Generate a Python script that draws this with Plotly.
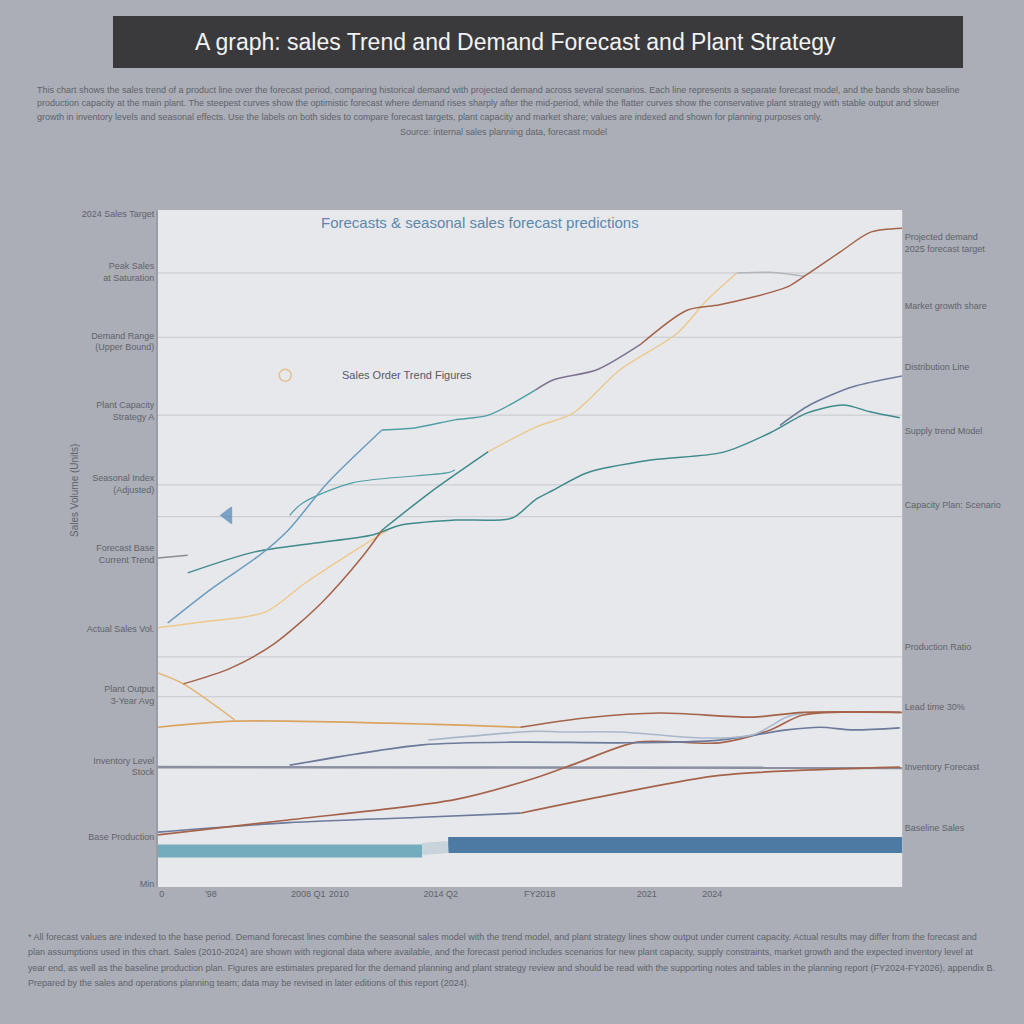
import plotly.graph_objects as go

# ---------------- DATA ----------------
TITLE = "A graph: sales Trend and Demand Forecast and Plant Strategy"
PLOT_TITLE = "Forecasts & seasonal sales forecast predictions"
NOTE = "Sales Order Trend Figures"
HEADER_LINES = [
    "This chart shows the sales trend of a product line over the forecast period, comparing historical demand with projected demand across several scenarios. Each line represents a separate forecast model, and the bands show baseline",
    "production capacity at the main plant. The steepest curves show the optimistic forecast where demand rises sharply after the mid-period, while the flatter curves show the conservative plant strategy with stable output and slower",
    "growth in inventory levels and seasonal effects. Use the labels on both sides to compare forecast targets, plant capacity and market share; values are indexed and shown for planning purposes only.",
]
HEADER_SOURCE = "Source: internal sales planning data, forecast model"
FOOTER_LINES = [
    "* All forecast values are indexed to the base period. Demand forecast lines combine the seasonal sales model with the trend model, and plant strategy lines show output under current capacity. Actual results may differ from the forecast and",
    "plan assumptions used in this chart. Sales (2010-2024) are shown with regional data where available, and the forecast period includes scenarios for new plant capacity, supply constraints, market growth and the expected inventory level at",
    "year end, as well as the baseline production plan. Figures are estimates prepared for the demand planning and plant strategy review and should be read with the supporting notes and tables in the planning report (FY2024-FY2026), appendix B.",
    "Prepared by the sales and operations planning team; data may be revised in later editions of this report (2024).",
]

X_TICKS = [0.5, 7.1, 20.2, 24.3, 38.0, 51.3, 65.7, 74.5]
X_LABELS = ["0", "'98", "2008 Q1", "2010", "2014 Q2", "FY2018", "2021", "2024"]

LEFT_TICKS = [99.4, 90.9, 80.6, 70.3, 59.5, 49.2, 38.1, 28.4, 17.8, 7.4, 0.4]
LEFT_LABELS = ["2024 Sales Target", "Peak Sales<br>at Saturation", "Demand Range<br>(Upper Bound)",
               "Plant Capacity<br>Strategy A", "Seasonal Index<br>(Adjusted)",
               "Forecast Base<br>Current Trend", "Actual Sales Vol.", "Plant Output<br>3-Year Avg",
               "Inventory Level<br>Stock", "Base Production", "Min"]
RIGHT_TICKS = [95.1, 85.9, 76.8, 67.4, 56.4, 35.5, 26.6, 17.8, 8.8]
RIGHT_LABELS = ["Projected demand<br>2025 forecast target", "Market growth share", "Distribution Line",
                "Supply trend Model", "Capacity Plan: Scenario", "Production Ratio", "Lead time 30%",
                "Inventory Forecast", "Baseline Sales"]
GRID_VALUES = [90.7, 81.2, 69.7, 59.4, 54.7, 34.0, 28.1]

# series values (x: period index 0-100, y: sales index 0-100)
seasonal_x = [1.3, 7.0, 14.0, 17.5, 22.8, 30.1, 34.5, 39.9, 44.4, 50.7, 53.1, 59.0, 64.8, 71.1, 75.5, 84.5, 86.7, 91.7, 95.7, 100]
seasonal_y = [39.0, 43.9, 49.3, 52.7, 59.7, 67.5, 67.8, 69.0, 69.7, 73.4, 74.9, 76.4, 80.1, 85.2, 86.0, 88.6, 90.1, 93.8, 96.7, 97.3]

demand_x = [3.4, 9.7, 15.7, 22.0, 27.4, 30.1, 36.6, 44.4, 50.7, 55.8, 62.1, 69.8, 73.8, 77.8, 82.3, 87.0]
demand_y = [30.0, 32.3, 36.0, 42.0, 48.7, 52.7, 58.3, 64.3, 67.9, 70.0, 76.4, 81.8, 86.7, 90.7, 90.8, 90.2]

gold_x = [0, 5.6, 14.4, 19.8, 28.8, 30.9]
gold_y = [38.3, 39.1, 40.6, 44.9, 51.3, 52.7]

plant_x = [4.0, 13.0, 21.1, 28.8, 32.8, 39.9, 47.6, 50.7, 53.1, 57.7, 66.5, 75.9, 82.3, 87.2, 92.1, 95.7, 99.7]
plant_y = [46.4, 49.5, 50.8, 52.0, 53.5, 54.2, 54.5, 57.2, 58.6, 61.2, 63.1, 64.2, 67.1, 70.0, 71.2, 70.2, 69.3]

branch_x = [17.7, 19.4, 26.1, 39.0, 39.9]
branch_y = [54.9, 56.7, 59.7, 61.2, 61.6]

slate_up_x = [83.6, 87.6, 93.4, 100]
slate_up_y = [68.2, 71.2, 73.9, 75.5]

gray_left_x = [0, 4.0]
gray_left_y = [48.6, 49.0]

gold_diag_x = [0, 3.4, 10.3]
gold_diag_y = [31.6, 30.0, 24.7]

flat_x = [0, 10.3, 30.9, 48.7, 57.7, 67.5, 80.0, 86.7, 100]
flat_y = [23.6, 24.5, 24.2, 23.6, 25.0, 25.7, 25.1, 25.8, 25.8]

slate_mid_x = [17.7, 35.5, 48.7, 62.1, 75.5, 84.5, 89.0, 93.4, 99.7]
slate_mid_y = [18.0, 21.0, 21.4, 21.3, 21.7, 23.2, 23.6, 23.2, 23.5]

light_x = [36.3, 50.7, 54.0, 62.1, 73.3, 80.0, 84.5, 86.7]
light_y = [21.7, 23.0, 22.9, 22.9, 22.0, 22.5, 25.1, 25.7]

stock_x = [0, 50, 100]
stock_y = [17.7, 17.7, 17.6]

rust_low_x = [0, 17.5, 39.9, 50.7, 56.3, 64.4, 75.5, 82.3, 86.7, 99.7]
rust_low_y = [7.7, 9.9, 12.9, 16.1, 18.3, 21.4, 21.3, 23.2, 25.4, 25.8]

base_x = [0, 17.5, 35.5, 48.7, 62.1, 75.5, 99.7]
base_y = [8.1, 9.5, 10.3, 10.9, 13.9, 16.5, 17.7]

band_teal_x = [0, 35.5]
band_teal_y = [5.3, 5.3]
band_blue_x = [39.0, 100]
band_blue_y = [6.2, 6.2]

deco_x = [9.4, 17.1]
deco_y = [54.9, 75.6]

# ---------------- STYLE ----------------
FONT = "Liberation Sans Narrow, Arial Narrow, Liberation Sans, sans-serif"
RUST = "#a5634a"
GOLD = "#e3b573"
TEAL = "#3f8a8c"
LTEAL = "#4e9fa8"
BLUE = "#6a9cc0"
SLATE = "#6c7a9c"
PURPLE = "#7d7492"
LGRAY = "#b4b6bd"
TEXT_GRAY = "#5f636b"

HEADER_Y = [1.1773, 1.1580, 1.1374]
FOOTER_Y = [-0.0739, -0.0960, -0.1196, -0.1418]

fig = go.Figure()


def add(x, y, segments, width=1.6, shape="spline"):
    for i0, i1, color in segments:
        fig.add_trace(go.Scatter(x=x[i0:i1 + 1], y=y[i0:i1 + 1], mode="lines",
                                 line=dict(color=color, width=width, shape=shape, smoothing=0.8),
                                 hoverinfo="skip", showlegend=False))


# bands
add(band_teal_x, band_teal_y, [(0, 1, "#74acbd")], width=13, shape="linear")
add(band_blue_x, band_blue_y, [(0, 1, "#4d7aa2")], width=16, shape="linear")
fig.add_trace(go.Scatter(x=[35.5, 39.0], y=[5.6, 5.9], mode="lines",
                         line=dict(color="#c9d3dc", width=12), hoverinfo="skip", showlegend=False))

add(stock_x, stock_y, [(0, 2, "#8a90a0")], width=2.6, shape="linear")
add(base_x, base_y, [(0, 3, SLATE), (3, 6, RUST)], width=1.7)
add(rust_low_x, rust_low_y, [(0, 9, RUST)], width=1.7)
add(slate_mid_x, slate_mid_y, [(0, 8, SLATE)], width=1.7)
add(light_x, light_y, [(0, 7, "#a9b7cb")], width=1.5)
add(flat_x, flat_y, [(0, 3, "#d9a560"), (3, 8, RUST)], width=1.7)
add(gold_diag_x, gold_diag_y, [(0, 2, GOLD)], width=1.5)

add(gray_left_x, gray_left_y, [(0, 1, "#8a8c94")], width=1.3)
add(gold_x, gold_y, [(0, 5, "#efc98a")], width=1.4)
add(branch_x, branch_y, [(0, 4, LTEAL)], width=1.2)
add(plant_x, plant_y, [(0, 16, TEAL)], width=1.5)
add(slate_up_x, slate_up_y, [(0, 3, SLATE)], width=1.5)
add(demand_x, demand_y, [(0, 5, RUST), (5, 7, TEAL), (7, 13, "#ecc98e"), (13, 15, LGRAY)], width=1.5)
add(seasonal_x, seasonal_y, [(0, 5, BLUE), (5, 9, LTEAL), (9, 12, PURPLE), (12, 19, RUST)], width=1.5)

fig.add_trace(go.Scatter(x=deco_x, y=deco_y, mode="markers",
                         marker=dict(symbol=["triangle-left", "circle-open"], size=[14, 12],
                                     color=["#4f86b6", "#e3b06a"], line=dict(width=1.5, color=["#4f86b6", "#e3b06a"])),
                         hoverinfo="skip", showlegend=False))

shapes = [dict(type="rect", xref="paper", yref="paper", x0=-0.0605, x1=1.082, y0=1.2097, y1=1.2866,
               fillcolor="#3a3a3c", line=dict(width=0), layer="below")]
for g in GRID_VALUES:
    shapes.append(dict(type="line", xref="paper", yref="y", x0=0, x1=1, y0=g, y1=g,
                       line=dict(color="#c6c8ce", width=1), layer="below"))

annotations = [
    dict(text=TITLE, xref="paper", yref="paper", x=0.48, y=1.2482, showarrow=False,
         font=dict(family=FONT, size=23, color="#f2f2f2"), xanchor="center", yanchor="middle"),
    dict(text=HEADER_SOURCE, xref="paper", yref="paper", x=0.465, y=1.1152, showarrow=False,
         font=dict(family=FONT, size=9, color=TEXT_GRAY), xanchor="center", yanchor="middle"),
    dict(text=PLOT_TITLE, xref="paper", yref="paper", x=0.433, y=0.981, showarrow=False,
         font=dict(family=FONT, size=15, color="#5b88ad"), xanchor="center", yanchor="middle"),
    dict(text=NOTE, xref="paper", yref="paper", x=0.335, y=0.756, showarrow=False,
         font=dict(family=FONT, size=11, color="#555a62"), xanchor="center", yanchor="middle"),
    dict(text="Sales Volume (Units)", xref="paper", yref="paper", x=-0.112, y=0.586, showarrow=False,
         textangle=-90, font=dict(family=FONT, size=10, color=TEXT_GRAY), xanchor="center", yanchor="middle"),
]
for line, yy in zip(HEADER_LINES, HEADER_Y):
    annotations.append(dict(text=line, xref="paper", yref="paper", x=-0.165, y=yy, showarrow=False,
                            font=dict(family=FONT, size=9, color=TEXT_GRAY), xanchor="left", yanchor="middle"))
for line, yy in zip(FOOTER_LINES, FOOTER_Y):
    annotations.append(dict(text=line, xref="paper", yref="paper", x=-0.178, y=yy, showarrow=False,
                            font=dict(family=FONT, size=9, color=TEXT_GRAY), xanchor="left", yanchor="middle"))

fig.update_layout(
    width=1024, height=1024,
    margin=dict(l=158, r=122, t=210, b=137),
    paper_bgcolor="#abaeb6",
    plot_bgcolor="#e7e8eb",
    shapes=shapes,
    annotations=annotations,
    xaxis=dict(range=[0, 100], tickvals=X_TICKS, ticktext=X_LABELS, showgrid=False, zeroline=False,
               showline=False, ticks="", tickfont=dict(family=FONT, size=9, color=TEXT_GRAY)),
    yaxis=dict(range=[0, 100], tickvals=LEFT_TICKS, ticktext=LEFT_LABELS, showgrid=False, zeroline=False,
               showline=True, linecolor="#9a9da5", linewidth=2, ticks="", ticklen=0,
               tickfont=dict(family=FONT, size=9, color=TEXT_GRAY)),
    yaxis2=dict(range=[0, 100], overlaying="y", side="right", tickvals=RIGHT_TICKS, ticktext=RIGHT_LABELS,
                showgrid=False, zeroline=False, showline=True, linecolor="#b5b8bf", linewidth=1, ticks="",
                tickfont=dict(family=FONT, size=9, color=TEXT_GRAY)),
)
# a transparent trace anchors the right axis
fig.add_trace(go.Scatter(x=[0, 100], y=[0, 100], yaxis="y2", mode="lines", line=dict(width=0),
                         hoverinfo="skip", showlegend=False, opacity=0))

fig.write_html("out.html")
